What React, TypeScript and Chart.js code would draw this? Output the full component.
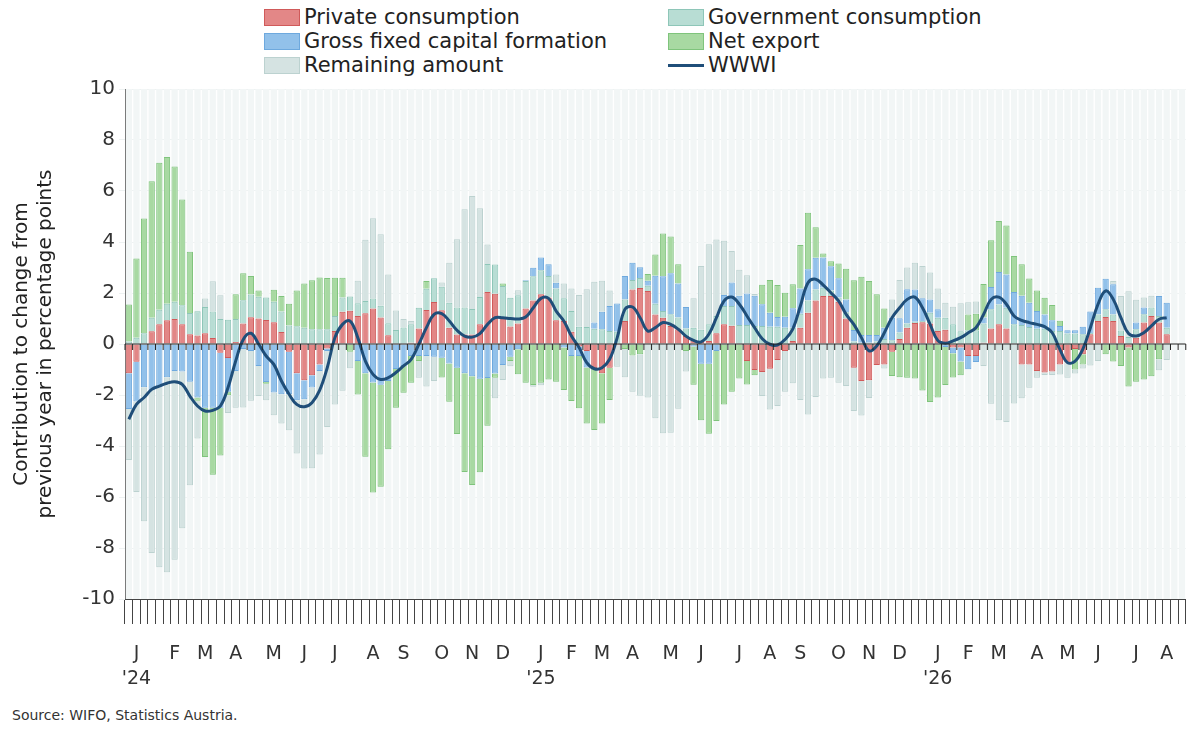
import React, { useEffect, useRef } from "react";
import { Chart, registerables } from "chart.js";
Chart.register(...registerables);

const monthLetters = ["J", "F", "M", "A", "M", "J", "J", "A", "S", "O", "N", "D"];
const yearLabels: Record<number, string> = { 2024: "'24", 2025: "'25", 2026: "'26" };
const slotCount = 139;
const yTicks = [-10, -8, -6, -4, -2, 0, 2, 4, 6, 8, 10];

const privateConsumption = [-1.15,-0.7,0,0.5,0.77,0.93,0.98,0.77,0.38,0.33,0.42,0.24,-0.34,-0.55,0.08,0.8,1.05,1.0,0.94,0.85,0.47,-0.3,-1.15,-1.42,
-1.23,-0.8,-0.18,0.51,1.26,1.3,1.1,1.21,1.39,1.04,0.34,0,0,0.05,0.61,1.33,1.65,1.32,0.64,0.37,0.37,0.37,0.77,2.04,
1.97,1.03,0.69,0.8,1.39,1.71,1.95,1.82,0.93,0.9,0.48,-0.1,-0.27,-0.95,-1.15,-0.93,-0.05,0.9,2.14,2.2,2.08,1.16,1.03,
0.71,0.58,0.31,0.14,0.08,0.12,0.42,0.77,0.72,0,-0.67,-1.02,-1.1,-0.97,-0.63,-0.27,0.12,0.64,1.23,1.71,1.88,1.88,1.66,1.0,
-0.93,-1.45,-1.42,-0.82,-0.8,-0.3,0.2,0.64,0.82,0.85,0.8,0.51,0.56,-0.14,-0.14,-0.47,-0.47,0.05,0.61,0.77,0.61,0,-0.8,
-0.8,-1.06,-1.12,-1.08,-0.8,-0.73,-0.2,-0.4,0.38,0.9,1.06,0.9,0.31,-0.14,0.25,0.84,1.1,0.84,0.38];

const governmentConsumption = [0.1,0.25,0.42,0.53,0.57,0.65,0.68,0.75,0.84,0.95,1.03,1.03,0.98,0.95,0.9,0.92,0.89,0.85,0.88,0.81,0.8,0.73,0.7,0.64,
0.58,0.58,0.58,0.59,0.56,0.56,0.5,0.48,0.39,0.46,0.47,0.55,0.65,0.72,0.81,0.84,0.93,0.93,0.98,1.06,1.06,1.0,1.07,1.1,
1.15,1.24,1.12,1.11,1.08,0.95,0.94,0.85,1.25,0.89,0.81,0.68,0.67,0.6,0.58,0.51,0.48,0.85,0.37,0.39,0.2,0.42,0.26,
0.46,0.46,0.3,0.5,0.48,0.65,0.68,0.72,0.77,0.75,0.75,0.71,0.71,0.68,0.68,0.64,0.52,0.55,0.48,0.43,0.33,0.22,0.16,0.25,
0.1,0.05,0.05,0.1,0.2,0.15,0.25,0.16,0.05,0.05,0.43,0.52,0.47,0.77,0.5,0.54,0.54,0.75,0.75,0.78,0.81,0.77,0.75,
0.67,0.6,0.6,0.51,0.51,0.41,0.41,0.38,0.05,0.26,0.3,0.26,0.22,0.27,0.33,0.33,0.33,0.26,0.26];

const grossFixedCapital = [-1.4,-1.55,-1.7,-1.8,-1.7,-1.3,-1.06,-1.08,-1.48,-2.1,-2.5,-2.5,-2.16,-1.32,-1.06,-0.2,-0.27,-0.86,-1.49,-1.9,-1.97,-1.67,-1.06,-0.75,
-0.48,-0.26,-0.09,0,0,0,-0.67,-1.15,-1.51,-1.6,-1.45,-0.98,-0.86,-0.47,-0.47,-0.47,-0.5,-0.54,-0.76,-0.93,-1.15,-1.26,-1.36,-1.33,
-1.16,-0.82,-0.5,-0.21,0.03,0.33,0.5,0.46,0.22,-0.14,-0.47,-0.37,-0.65,0.24,0.68,0.98,1.11,0.92,0.68,0.42,0.2,1.1,1.37,
1.6,1.33,0.84,-0.1,-0.77,-0.77,-0.27,0.43,0.92,1.14,1.23,1.18,0.85,0.55,0.38,0.43,0.76,0.99,1.22,1.24,1.18,0.95,0.76,0.5,
0.45,0.3,0.3,0.25,0.44,0.88,0.56,1.35,1.27,0.89,0.52,0.33,-0.12,-0.22,-0.55,-0.52,-0.24,0.24,0.88,1.27,1.31,1.27,1.14,
0.95,0.69,0.56,0.42,0.2,0.13,0.13,0.3,0.84,1.05,1.2,1.18,0,0,0.26,0.26,0,0.78,0.98];

const netExport = [1.45,3.1,4.5,5.35,5.77,5.75,5.3,4.15,2.4,-0.13,-1.93,-2.63,-1.87,-0.14,0.97,1.05,0.73,0.25,-0.07,0.47,0.61,0.85,1.4,1.73,
1.92,2.03,2.01,1.5,0.78,-0.3,-1.31,-3.27,-4.31,-4.0,-2.68,-1.52,-1.05,-1.05,-0.2,0.3,0,-0.77,-1.5,-2.6,-3.87,-4.27,-3.67,-1.88,
-0.16,0.1,-0.17,-0.98,-1.52,-1.61,-1.52,-1.39,-1.48,-1.66,-1.77,-2.05,-2.2,-2.42,-1.97,-1.27,0,-0.2,-0.45,-0.4,0.27,0.83,1.67,
1.45,0.76,-0.27,-1.5,-2.22,-2.75,-2.75,-2.37,-1.87,-1.35,-0.92,-0.21,0.76,1.28,1.25,0.94,0.94,1.7,2.22,1.2,0.16,0.2,0.58,1.2,
1.95,2.29,2.12,1.6,0.75,-0.95,-1.3,-1.32,-1.35,-1.82,-2.27,-2.1,-1.49,-0.95,-0.54,0.62,0.65,1.31,1.83,2.0,1.92,1.41,1.24,
0.95,0.81,0.65,0.6,0.2,0,-0.8,-0.4,0,0,-0.4,-0.69,-0.86,-1.53,-1.48,-1.39,-1.26,-0.6,0];

const remainingAmount = [-2.0,-3.55,-5.25,-6.4,-7.05,-7.65,-7.4,-6.15,-4.06,-1.48,0.33,1.19,0.93,-0.7,-1.44,-2.29,-1.96,-1.18,-0.65,-0.89,-1.15,-1.41,-2.08,-2.71,
-3.16,-3.27,-2.98,-2.37,-1.83,-0.65,0.88,2.4,3.15,2.8,1.92,0.76,0.33,0.13,-0.65,-1.2,-0.95,0.16,1.57,2.68,3.85,4.43,3.48,0.76,
-0.81,-0.59,-0.2,0.2,0,-0.07,-0.1,0,0.33,0.58,0.89,1.24,1.48,1.6,1.22,0.61,-0.84,-1.1,-1.42,-1.63,-2.1,-2.91,-3.5,
-3.48,-2.54,-0.81,1.15,2.5,3.14,3.0,2.13,1.24,1.02,0.72,0.07,-0.94,-1.6,-1.8,-1.6,-1.54,-2.2,-2.76,-2.08,-1.35,-1.32,-1.52,-1.65,
-1.7,-1.35,-0.7,0,-0.16,0.72,1.5,0.85,1.05,1.27,1.05,0.82,0.59,0.69,1.1,0.48,0.48,-0.86,-2.34,-2.99,-3.06,-2.33,-1.33,
-0.92,-0.26,-0.1,-0.14,-0.4,-0.59,-0.16,-0.16,-0.84,-0.67,0,0.13,1.35,1.8,0.9,0.39,0.46,-0.43,-0.63];

const wwwi = [-2.95,-2.37,-2.1,-1.78,-1.65,-1.54,-1.48,-1.58,-2.04,-2.43,-2.63,-2.6,-2.43,-1.71,-0.67,0.18,0.42,0,-0.47,-0.8,-1.45,-1.97,-2.37,-2.46,
-2.3,-1.82,-0.93,0.25,0.77,0.9,0.25,-0.67,-1.19,-1.39,-1.32,-1.12,-0.86,-0.6,-0.01,0.64,1.16,1.19,0.9,0.54,0.31,0.27,0.41,0.77,
1.03,1.03,1.0,0.98,1.06,1.42,1.79,1.79,1.29,0.9,0.31,-0.14,-0.73,-0.97,-0.93,-0.6,0.25,1.36,1.45,1.03,0.51,0.64,0.84,
0.77,0.58,0.31,0.14,0.08,0.38,1.03,1.69,1.84,1.56,1.1,0.64,0.21,-0.01,-0.04,0.18,0.58,1.49,2.4,2.54,2.31,2.01,1.69,1.16,
0.77,0.25,-0.27,-0.08,0.44,1.03,1.42,1.75,1.84,1.42,0.77,0.14,0.03,0.12,0.25,0.44,0.64,1.16,1.75,1.84,1.56,1.1,0.93,
0.84,0.77,0.68,0.44,-0.21,-0.73,-0.67,-0.21,0.64,1.56,2.08,1.75,1.03,0.41,0.31,0.44,0.71,0.97,1.03];

const FONT = "'DejaVu Sans', sans-serif";

function weekInfo(i: number) {
  const d = new Date(Date.UTC(2024, 0, 4 + 7 * i));
  return { m: d.getUTCMonth(), y: d.getUTCFullYear() };
}

const weekLabels: (string | string[])[] = (() => {
  const groups: Record<string, number[]> = {};
  for (let i = 0; i < slotCount; i++) {
    const w = weekInfo(i);
    const k = w.y + "-" + w.m;
    (groups[k] = groups[k] || []).push(i);
  }
  const out: (string | string[])[] = new Array(slotCount).fill("");
  Object.keys(groups).forEach((k) => {
    const idx = groups[k];
    const mid = idx[Math.floor((idx.length - 1) / 2)];
    const w = weekInfo(mid);
    out[mid] = w.m === 0 ? [monthLetters[w.m], yearLabels[w.y]] : monthLetters[w.m];
  });
  return out;
})();

const pad = (a: number[]) => [...a, ...new Array(slotCount - a.length).fill(null)];

const bgPlugin = {
  id: "stripes",
  beforeDatasetsDraw(chart: any) {
    const { ctx, chartArea, scales } = chart;
    const x = scales.x;
    const w = (chartArea.right - chartArea.left) / slotCount;
    ctx.save();
    ctx.fillStyle = "#f2f6f6";
    for (let i = 0; i < slotCount; i++) {
      const c = x.getPixelForValue(i);
      ctx.fillRect(c - w * 0.41, chartArea.top, w * 0.82, chartArea.bottom - chartArea.top);
    }
    ctx.restore();
  },
  afterDatasetsDraw(chart: any) {
    const { ctx, chartArea, scales } = chart;
    const x = scales.x;
    const y0 = scales.y.getPixelForValue(0);
    const w = (chartArea.right - chartArea.left) / slotCount;
    ctx.save();
    ctx.strokeStyle = "#222";
    ctx.lineWidth = 1;
    ctx.beginPath();
    ctx.moveTo(chartArea.left, y0);
    ctx.lineTo(chartArea.right, y0);
    for (let i = 0; i <= slotCount; i++) {
      const b = x.getPixelForValue(i) - w / 2;
      ctx.moveTo(b, y0);
      ctx.lineTo(b, y0 + 6);
    }
    ctx.stroke();
    ctx.restore();
  },
};

export default function App() {
  const ref = useRef<HTMLCanvasElement>(null);
  useEffect(() => {
    if (!ref.current) return;
    const bar = (label: string, data: number[], bg: string, bd: string) => ({
      type: "bar" as const,
      label,
      data: pad(data),
      backgroundColor: bg,
      borderColor: bd,
      borderWidth: 1,
      barPercentage: 0.82,
      categoryPercentage: 1,
      stack: "s",
      order: 1,
    });
    const chart = new Chart(ref.current, {
      type: "bar",
      data: {
        labels: weekLabels as any,
        datasets: [
          {
            type: "line" as const,
            label: "WWWI",
            data: pad(wwwi),
            borderColor: "#1f4e79",
            borderWidth: 3,
            pointRadius: 0,
            tension: 0.4,
            order: 0,
          } as any,
          bar("Private consumption", privateConsumption, "rgba(224,122,122,0.9)", "#d05a5a"),
          bar("Government consumption", governmentConsumption, "#b8ddd4", "#8ec6b8"),
          bar("Gross fixed capital formation", grossFixedCapital, "#92c1ea", "#6ea9de"),
          bar("Net export", netExport, "#a8d9a2", "#7fc47c"),
          bar("Remaining amount", remainingAmount, "#d5e3e2", "#bcd2d0"),
        ],
      },
      options: {
        animation: false,
        responsive: false,
        layout: { padding: { left: 10, right: 13, top: 3, bottom: 0 } },
        plugins: { legend: { display: false }, tooltip: { enabled: false } },
        scales: {
          x: {
            stacked: true,
            grid: { offset: true, drawOnChartArea: false, drawTicks: true, tickLength: 25, color: "#444" },
            border: { color: "#444" },
            ticks: { autoSkip: false, maxRotation: 0, color: "#333", font: { size: 19, family: FONT, lineHeight: 1.3 }, padding: 18 },
            afterFit: (s: any) => { s.height = 104; },
          },
          y: {
            stacked: true,
            min: -10,
            max: 10,
            afterBuildTicks: (s: any) => { s.ticks = yTicks.map((v) => ({ value: v })); },
            grid: { color: "#eef2f2", drawTicks: true, tickLength: 6 },
            border: { color: "#444" },
            ticks: { color: "#333", font: { size: 20, family: FONT }, padding: 4 },
            title: {
              display: true,
              text: ["Contribution to change from", "previous year in percentage points"],
              color: "#222",
              font: { size: 20, family: FONT },
              padding: { top: 0, bottom: 10 },
            },
            afterFit: (s: any) => { s.width = 115; },
          },
        },
      },
      plugins: [bgPlugin],
    });
    return () => chart.destroy();
  }, []);

  const legendItems = [
    ["Private consumption", "rgba(224,122,122,0.9)", "#d05a5a", false],
    ["Government consumption", "#b8ddd4", "#8ec6b8", false],
    ["Gross fixed capital formation", "#92c1ea", "#6ea9de", false],
    ["Net export", "#a8d9a2", "#7fc47c", false],
    ["Remaining amount", "#d5e3e2", "#bcd2d0", false],
    ["WWWI", "#1f4e79", "#1f4e79", true],
  ] as const;

  return (
    <div style={{ position: "fixed", left: 0, top: 0, width: 1200, height: 747, background: "#fff", fontFamily: FONT }}>
      <div style={{ position: "absolute", left: 264, top: 6, display: "grid", gridTemplateColumns: "404px 330px", rowGap: 2 }}>
        {legendItems.map(([t, bg, bd, line]) => (
          <div key={t} style={{ display: "flex", alignItems: "center", height: 22, fontSize: 21, color: "#222" }}>
            {line ? (
              <span style={{ width: 36, height: 3, background: bg, marginRight: 4, display: "inline-block" }} />
            ) : (
              <span style={{ width: 34, height: 15, background: bg, border: `1px solid ${bd}`, marginRight: 4, display: "inline-block" }} />
            )}
            {t}
          </div>
        ))}
      </div>
      <canvas ref={ref} width={1200} height={630} style={{ position: "absolute", left: 0, top: 73 }} />
      <div style={{ position: "absolute", left: 12, top: 707, fontSize: 14, color: "#333" }}>Source: WIFO, Statistics Austria.</div>
    </div>
  );
}
